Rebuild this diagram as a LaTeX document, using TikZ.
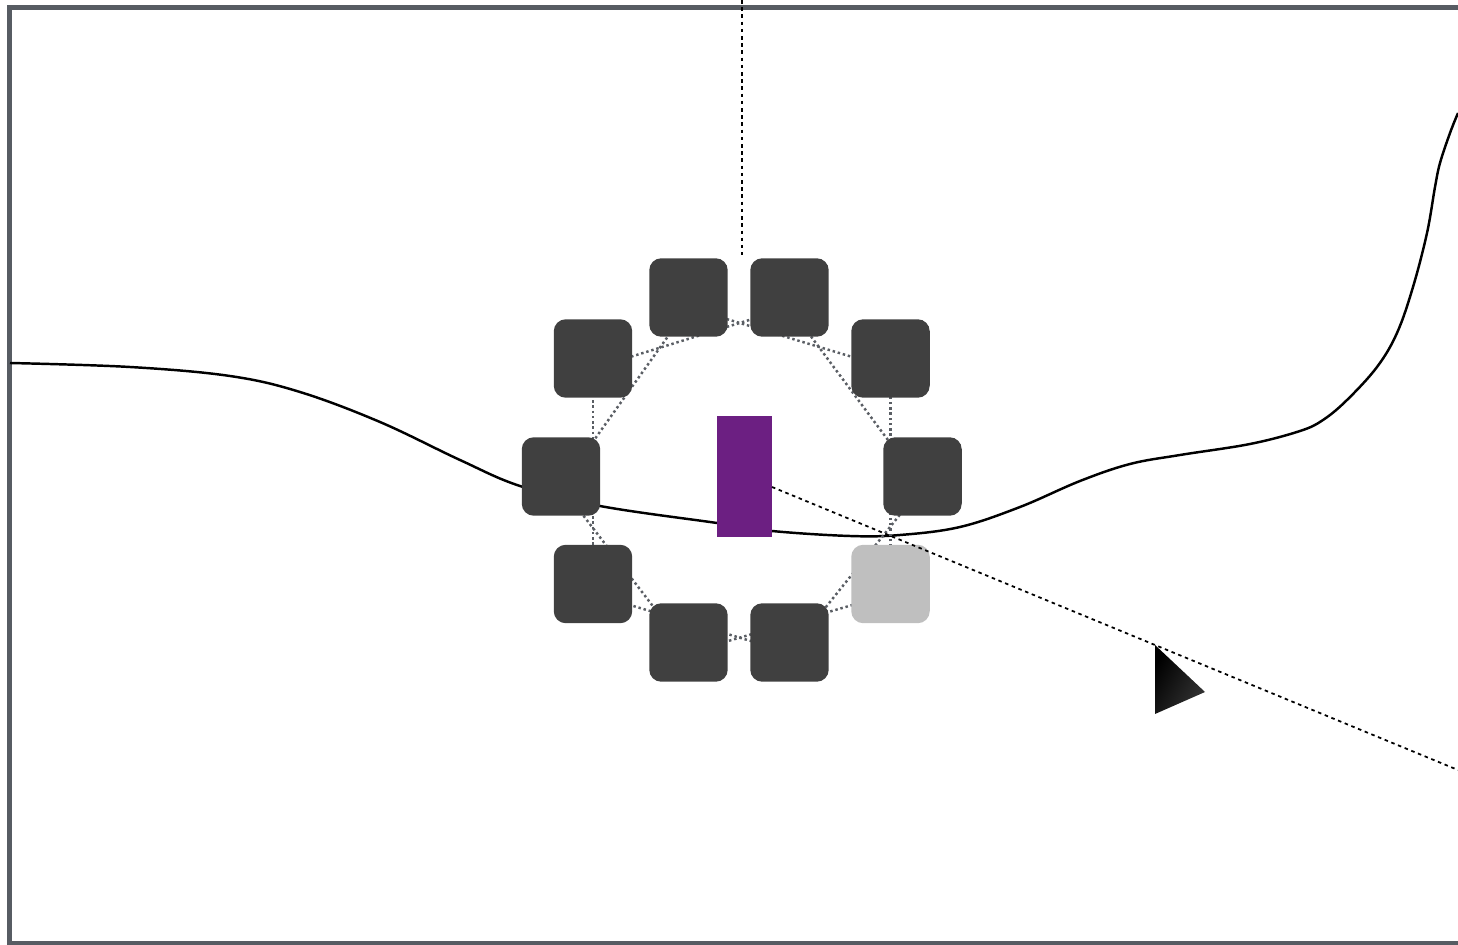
\documentclass[tikz,border=0pt]{standalone}
\definecolor{framegray}{RGB}{87,92,99}
\definecolor{tiledark}{RGB}{64,64,64}
\definecolor{tilelight}{RGB}{191,191,191}
\definecolor{linkgray}{RGB}{90,94,100}
\definecolor{coreplum}{RGB}{108,31,130}
\begin{document}
\begin{tikzpicture}[x=0.02cm, y=-0.02cm,
    tile/.style={rounded corners=0.24cm, minimum size=1.57cm, inner sep=0pt, fill=tiledark},
    link/.style={linkgray, line width=1.4pt, dash pattern=on 1.4pt off 1.6pt},
    wire/.style={line width=1pt, dash pattern=on 2pt off 2.1pt}]
    \clip (0,0) rectangle (1458,945);
    \draw[framegray, line width=2.83pt] (9.5,7.5) rectangle (1480,943.5);
    \draw[line width=1.4pt] plot[smooth, tension=0.6] coordinates {(10,363) (130,367) (230,376) (300,392)
        (380,422) (460,460) (520,486) (600,506) (717,523) (772,531) (850,536) (900,535) (960,527) (1020,507)
        (1080,481) (1130,464) (1180,455) (1250,444) (1300,431) (1323,420) (1347,400) (1377,367) (1397,333)
        (1413,287) (1427,233) (1435,187) (1440,163) (1450,133) (1458,113)};
    \foreach \n/\x/\y in {0/922.5/476.5, 1/890.5/358.5, 2/789.5/297.5, 3/688.5/297.5, 4/593/358.5,
        5/561/476.5, 6/593/584, 7/688.5/642.5, 8/789.5/642.5, 9/890.5/584} {
        \coordinate (c\n) at (\x,\y);
        \coordinate (e\n) at ([yshift=-2mm]c\n);
    }
    \foreach \i [evaluate=\i as \j using {int(mod(\i+2,10))}] in {0,...,9} \draw[link] (e\i) -- (e\j);
    \foreach \n in {0,...,8} \node[tile] (s\n) at (c\n) {};
    \node[tile, fill=tilelight] (s9) at (c9) {}; % pale one
    \node[fill=coreplum, minimum width=1.1cm, minimum height=2.42cm, inner sep=0pt] (core) at (744.5,476.5) {};
    \coordinate (feed) at (742,0); \coordinate (feedend) at (742,255);
    \draw[wire] (feed) -- (feedend);
    \coordinate (tap) at (772,487); \coordinate (tail) at (1458,770);
    \draw[wire] (tap) -- (tail);
    \coordinate (tip) at (1155,645);
    \shade[left color=black, right color=black!80, shading angle=60] (tip) -- (1205,692) -- (1155,714) -- cycle;
\end{tikzpicture}
\end{document}
